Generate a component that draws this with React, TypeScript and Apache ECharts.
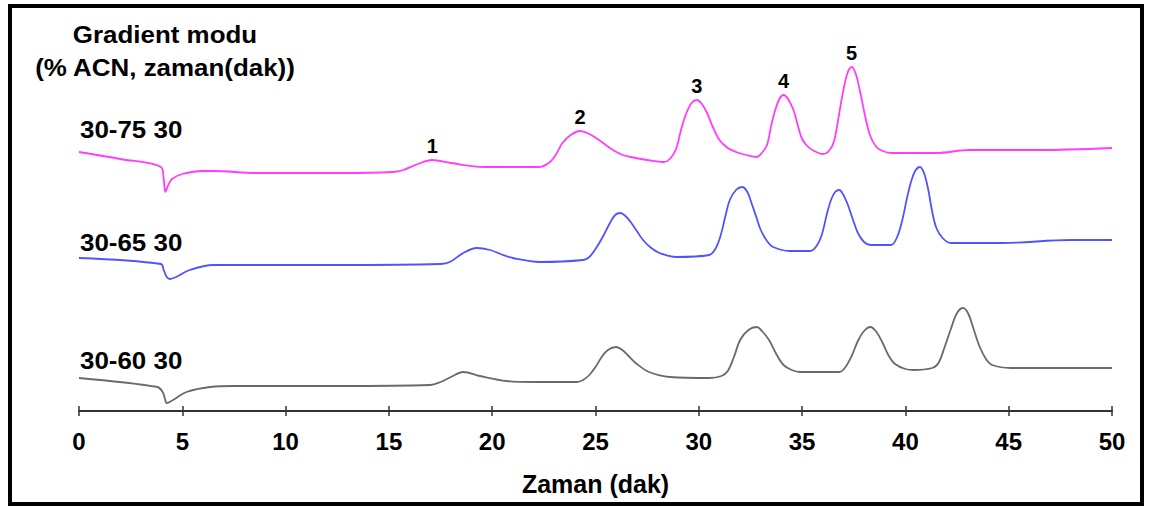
import React, { useEffect, useRef } from "react";
import * as echarts from "echarts";

// Time axis (dak)
const X_MIN = 0;
const X_MAX = 50;
const X_STEP = 5;

// Gradient labels
const titleLines = ["Gradient modu", "(% ACN, zaman(dak))"];
const traceNames = ["30-75 30", "30-65 30", "30-60 30"];
const traceColors = ["#ff3cff", "#5252ff", "#6a6a6a"];

// Chromatogram traces: [time (dak), detector signal (offset, a.u.)]
const trace7530: [number, number][] = [
  [0, 259], [2, 252], [3.97, 244], [4.1, 232], [4.18, 219], [4.3, 225], [4.5, 232],
  [5.0, 237], [6.0, 240], [6.5, 240], [8.6, 238], [12.6, 238], [15.2, 239], [15.7, 241],
  [16.4, 247], [17.1, 251], [18.0, 248], [19.6, 244], [22.3, 244], [22.8, 249],
  [23.1, 257], [23.4, 268], [23.8, 276], [24.25, 280], [24.7, 277], [25.1, 272],
  [25.7, 263], [26.2, 257], [26.7, 254], [27.5, 251], [28.3, 249],
  [28.6, 252], [28.9, 262], [29.15, 282], [29.4, 298], [29.65, 308], [29.9, 311],
  [30.15, 307], [30.4, 298], [30.7, 283], [31.0, 271], [31.4, 263], [31.8, 259],
  [32.3, 256], [32.8, 254],
  [33.05, 258], [33.3, 266], [33.5, 285], [33.7, 301], [33.9, 312], [34.1, 316],
  [34.35, 311], [34.6, 300], [34.8, 285], [35.0, 272], [35.25, 265], [35.5, 261],
  [36.0, 257],
  [36.3, 260], [36.55, 270], [36.8, 298], [37.0, 321], [37.2, 338], [37.4, 344],
  [37.6, 337], [37.8, 320], [38.05, 295], [38.3, 275], [38.6, 264], [38.9, 260],
  [39.3, 258], [41.5, 258], [43.1, 261], [46.4, 261], [50, 263],
];

const trace6530: [number, number][] = [
  [0, 153], [3.97, 147], [4.1, 141], [4.25, 134], [4.4, 132], [4.7, 134], [5.35, 141],
  [6.5, 146], [12.6, 146], [17.5, 147], [17.95, 149], [18.6, 158], [19.25, 163],
  [19.9, 161], [20.4, 157], [21.0, 153], [22.3, 149], [24.4, 151], [24.7, 154],
  [25.0, 162], [25.35, 174], [25.7, 188], [25.95, 196], [26.2, 198], [26.45, 195],
  [26.7, 189], [27.0, 180], [27.3, 171], [27.7, 163], [28.1, 158], [28.9, 154],
  [30.5, 156],
  [30.8, 162], [31.05, 175], [31.3, 196], [31.5, 211], [31.8, 221], [32.1, 224],
  [32.35, 219], [32.55, 208], [32.8, 193], [33.0, 181], [33.3, 170], [33.6, 164],
  [34.4, 160], [35.4, 160],
  [35.7, 165], [35.95, 176], [36.2, 197], [36.4, 211], [36.6, 219], [36.8, 221],
  [37.0, 216], [37.2, 207], [37.45, 192], [37.7, 178], [38.0, 169], [38.3, 166],
  [39.3, 166],
  [39.6, 174], [39.85, 191], [40.1, 215], [40.3, 231], [40.5, 241], [40.7, 244],
  [40.9, 238], [41.1, 222], [41.3, 199], [41.5, 183], [41.8, 173], [42.2, 168],
  [44.7, 168], [48.0, 171], [50, 171],
];

const trace6030: [number, number][] = [
  [0, 33], [3.8, 24], [4.05, 19], [4.15, 13], [4.25, 8], [4.55, 11], [5.2, 19],
  [6.35, 24], [7.5, 25], [12.6, 25], [17.0, 26], [17.5, 29], [18.0, 34], [18.6, 39],
  [19.4, 35], [20.7, 30], [22.0, 29], [24.1, 29], [24.4, 31],
  [24.7, 36], [25.0, 44], [25.3, 54], [25.6, 61], [26.0, 64], [26.3, 61], [26.6, 55],
  [27.0, 47], [27.6, 39], [28.6, 34], [30.5, 33], [31.1, 35],
  [31.4, 40], [31.7, 54], [32.0, 71], [32.4, 81], [32.8, 84], [33.1, 79], [33.4, 71],
  [33.75, 57], [34.1, 46], [34.5, 41], [34.9, 39], [36.8, 39],
  [37.1, 44], [37.4, 55], [37.7, 70], [38.0, 80], [38.3, 84], [38.6, 79], [38.9, 68],
  [39.2, 55], [39.5, 47], [40.0, 42], [40.4, 41], [41.3, 43],
  [41.6, 48], [41.9, 64], [42.2, 82], [42.5, 98], [42.8, 103], [43.05, 97], [43.3, 82],
  [43.6, 64], [43.9, 52], [44.2, 46], [45.1, 43], [50, 43],
];

// Peak numbering on the 30-75 30 trace
const peakLabels = ["1", "2", "3", "4", "5"];
const peakTimes = [17.1, 24.25, 29.9, 34.1, 37.4];

const FONT = "'Liberation Sans', Arial, Helvetica, sans-serif";

export default function App() {
  const ref = useRef<HTMLDivElement>(null);

  useEffect(() => {
    if (!ref.current) return;
    const chart = echarts.init(ref.current, null, { renderer: "svg" });

    const traces = [trace7530, trace6530, trace6030];
    const peakData = peakLabels.map((name, i) => {
      const t = peakTimes[i];
      const pt = trace7530.find((p) => p[0] === t)!;
      return { name, coord: [t, pt[1]] };
    });

    const series: any[] = traces.map((data, i) => ({
      type: "line",
      name: traceNames[i],
      data,
      showSymbol: false,
      smooth: 0.35,
      lineStyle: { color: traceColors[i], width: 1.8 },
      itemStyle: { color: traceColors[i] },
      silent: true,
      z: 3,
      markPoint:
        i === 0
          ? {
              symbol: "circle",
              symbolSize: 1,
              itemStyle: { color: "rgba(0,0,0,0)" },
              label: {
                show: true,
                position: "top",
                distance: 4,
                formatter: "{b}",
                color: "#000",
                fontFamily: FONT,
                fontWeight: "bold",
                fontSize: 20,
              },
              data: peakData,
            }
          : undefined,
    }));

    const axisCommon = {
      type: "value",
      min: X_MIN,
      max: X_MAX,
      interval: X_STEP,
      position: "bottom",
      splitLine: { show: false },
    };

    chart.setOption({
      animation: false,
      backgroundColor: "#ffffff",
      grid: { left: 79, right: 38, top: 11, bottom: 98 },
      xAxis: [
        {
          ...axisCommon,
          name: "Zaman (dak)",
          nameLocation: "middle",
          nameGap: 60,
          nameTextStyle: {
            color: "#000",
            fontFamily: FONT,
            fontWeight: "bold",
            fontSize: 25,
          },
          axisLine: { show: true, lineStyle: { color: "#333", width: 2 } },
          axisTick: { show: true, length: 5, lineStyle: { color: "#333", width: 1.5 } },
          axisLabel: {
            show: true,
            margin: 18,
            color: "#000",
            fontFamily: FONT,
            fontWeight: "bold",
            fontSize: 24,
          },
        },
        {
          ...axisCommon,
          axisLine: { show: false },
          axisTick: { show: true, inside: true, length: 5, lineStyle: { color: "#333", width: 1.5 } },
          axisLabel: { show: false },
        },
      ],
      yAxis: { type: "value", min: 0, max: 400, show: false },
      series,
      graphic: [
        {
          type: "rect",
          shape: { x: 10, y: 6, width: 1132, height: 498 },
          style: { fill: "none", stroke: "#000", lineWidth: 4 },
          silent: true,
        },
        ...titleLines.map((txt, i) => ({
          type: "text",
          x: 165,
          y: 34 + i * 33,
          scaleX: 1.08,
          style: {
            text: txt,
            fill: "#000",
            font: `bold 24px ${FONT}`,
            textAlign: "center",
            textVerticalAlign: "middle",
          },
        })),
        ...traceNames.map((txt, i) => ({
          type: "text",
          x: 80,
          y: [129, 242, 360][i],
          scaleX: 1.08,
          style: {
            text: txt,
            fill: "#000",
            font: `bold 24px ${FONT}`,
            textAlign: "left",
            textVerticalAlign: "middle",
          },
        })),
      ],
    });

    return () => chart.dispose();
  }, []);

  return (
    <div
      ref={ref}
      style={{ position: "fixed", left: 0, top: 0, width: 1150, height: 509, background: "#fff" }}
    />
  );
}
